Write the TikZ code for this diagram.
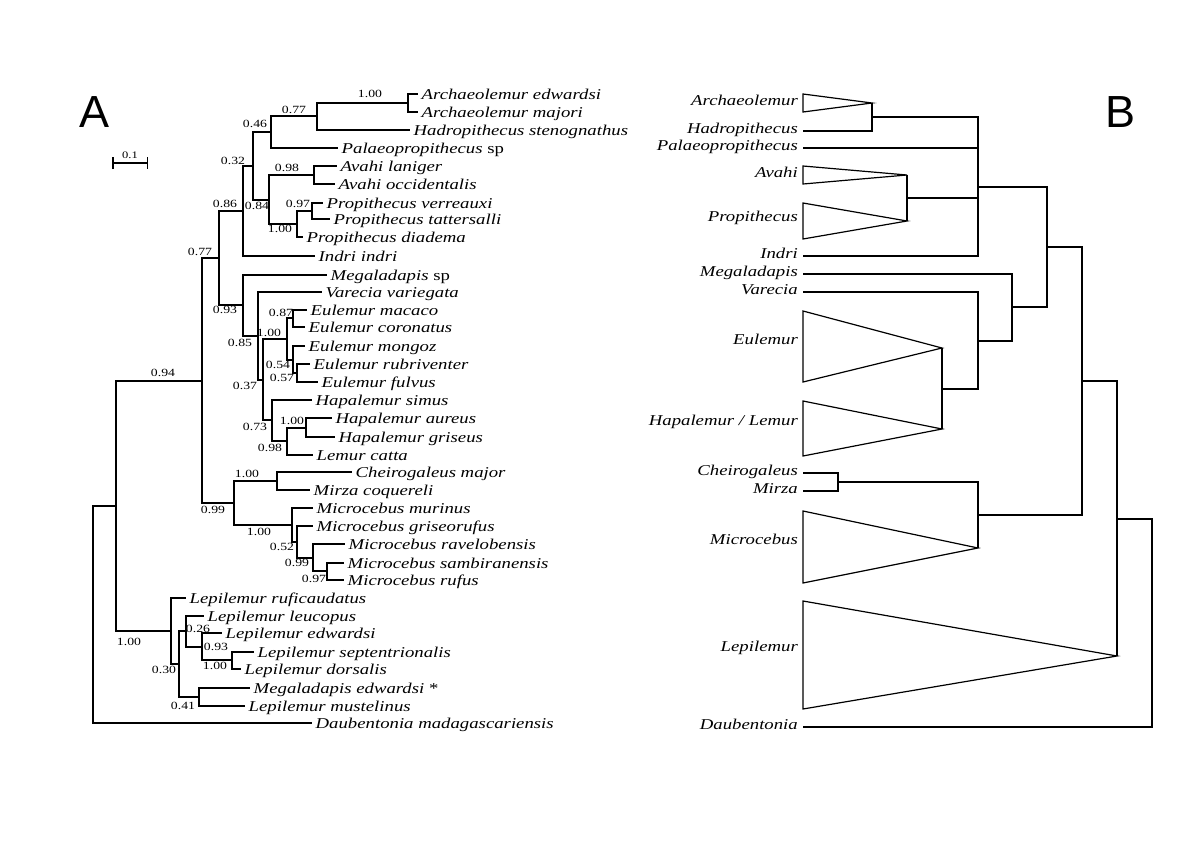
\documentclass[tikz,border=0pt]{standalone}
\usepackage{fontspec}
\setmainfont{Liberation Serif}[FakeStretch=1.25]
\newfontfamily\panelfont{Liberation Sans}
\usetikzlibrary{arrows.meta}
\begin{document}
\begin{tikzpicture}[
    x=1pt, y=-1pt,
    every node/.style={inner sep=0pt},
    taxon/.style={anchor=west, inner xsep=3.5pt, text height=10pt, text depth=0pt, font=\fontsize{15}{15}\selectfont\itshape},
    genus/.style={anchor=east, inner xsep=5pt, text height=5pt, text depth=0pt, font=\fontsize{15}{15}\selectfont\itshape},
    support/.style={font=\fontsize{11}{11}\selectfont},
    panel/.style={anchor=base, font=\panelfont\fontsize{45}{45}\selectfont},
    branch/.style={draw, line width=1.5pt},
    clade/.style={draw, line width=1.2pt},
    ]
\useasboundingbox (0,0) rectangle (1200,849);
\node[panel] (A) at (95,127) {A};
\node[panel] (B) at (1120,127) {B};
\coordinate (sbL) at (112,163);
\coordinate (sbR) at (148,163);
\draw[branch, {Bar[width=12pt]}-{Bar[width=12pt]}] (sbL) -- (sbR);
\node[font=\fontsize{10}{10}\selectfont] (scale) at (130,155) {0.1};
\node[taxon] (ArchEdwardsi) at (418,94) {Archaeolemur edwardsi};
\node[taxon] (ArchMajori) at (418,112) {Archaeolemur majori};
\node[taxon] (Hadropithecus) at (410,130) {Hadropithecus stenognathus};
\node[taxon] (Palaeopropithecus) at (338,148) {Palaeopropithecus \textup{sp}};
\node[taxon] (AvahiLaniger) at (337,166) {Avahi laniger};
\node[taxon] (AvahiOccidentalis) at (335,184) {Avahi occidentalis};
\node[taxon] (PropVerreauxi) at (323,203) {Propithecus verreauxi};
\node[taxon] (PropTattersalli) at (330,219) {Propithecus tattersalli};
\node[taxon] (PropDiadema) at (303,237) {Propithecus diadema};
\node[taxon] (Indri) at (315,256) {Indri indri};
\node[taxon] (MegaladapisSp) at (327,275) {Megaladapis \textup{sp}};
\node[taxon] (Varecia) at (322,292) {Varecia variegata};
\node[taxon] (EulMacaco) at (307,310) {Eulemur macaco};
\node[taxon] (EulCoronatus) at (305,327) {Eulemur coronatus};
\node[taxon] (EulMongoz) at (305,346) {Eulemur mongoz};
\node[taxon] (EulRubriventer) at (310,364) {Eulemur rubriventer};
\node[taxon] (EulFulvus) at (318,382) {Eulemur fulvus};
\node[taxon] (HapSimus) at (312,400) {Hapalemur simus};
\node[taxon] (HapAureus) at (332,418) {Hapalemur aureus};
\node[taxon] (HapGriseus) at (335,437) {Hapalemur griseus};
\node[taxon] (LemurCatta) at (313,455) {Lemur catta};
\node[taxon] (Cheirogaleus) at (352,472) {Cheirogaleus major};
\node[taxon] (Mirza) at (310,490) {Mirza coquereli};
\node[taxon] (MicMurinus) at (313,508) {Microcebus murinus};
\node[taxon] (MicGriseorufus) at (313,526) {Microcebus griseorufus};
\node[taxon] (MicRavelobensis) at (345,544) {Microcebus ravelobensis};
\node[taxon] (MicSambiranensis) at (344,563) {Microcebus sambiranensis};
\node[taxon] (MicRufus) at (344,580) {Microcebus rufus};
\node[taxon] (LepRuficaudatus) at (186,598) {Lepilemur ruficaudatus};
\node[taxon] (LepLeucopus) at (204,616) {Lepilemur leucopus};
\node[taxon] (LepEdwardsi) at (222,633) {Lepilemur edwardsi};
\node[taxon] (LepSeptentrionalis) at (254,652) {Lepilemur septentrionalis};
\node[taxon] (LepDorsalis) at (241,669) {Lepilemur dorsalis};
\node[taxon] (MegEdwardsi) at (250,688) {Megaladapis edwardsi \textup{*}};
\node[taxon] (LepMustelinus) at (245,706) {Lepilemur mustelinus};
\node[taxon] (Daubentonia) at (312,723) {Daubentonia madagascariensis};
\coordinate (nArch) at (408,103);
\coordinate (nArchHad) at (317,116);
\coordinate (nPal) at (271,132);
\coordinate (nAvahi) at (314,175);
\coordinate (nPverr) at (312,211);
\coordinate (nPropi) at (297,224);
\coordinate (nAvPr) at (269,200);
\coordinate (nPalAv) at (253,166);
\coordinate (nIndri) at (243,211);
\coordinate (nEuMac) at (293,318);
\coordinate (nEuRub) at (297,373);
\coordinate (nEuMon) at (293,360);
\coordinate (nEulemur) at (287,339);
\coordinate (nHapAur) at (306,428);
\coordinate (nHapLem) at (287,441);
\coordinate (nHapal) at (272,420);
\coordinate (nLemurid) at (263,380);
\coordinate (nVarecia) at (258,336);
\coordinate (nMegal) at (243,305);
\coordinate (nIndriMeg) at (219,258);
\coordinate (nCheiro) at (277,481);
\coordinate (nMicSamb) at (327,571);
\coordinate (nMicRav) at (313,558);
\coordinate (nMicGri) at (297,542);
\coordinate (nMicro) at (292,525);
\coordinate (nCheiroMic) at (234,503);
\coordinate (nLemuriform) at (202,381);
\coordinate (nLepSept) at (232,660);
\coordinate (nLepEdw) at (202,647);
\coordinate (nLepLeu) at (186,631);
\coordinate (nMegEdw) at (199,697);
\coordinate (nLepB) at (179,664);
\coordinate (nLepilemur) at (171,631);
\coordinate (nStrep) at (116,506);
\coordinate (nRoot) at (93,614);
\draw[branch] (nArch) |- (ArchEdwardsi.west);
\draw[branch] (nArch) |- (ArchMajori.west);
\draw[branch] (nArchHad) |- (nArch);
\draw[branch] (nArchHad) |- (Hadropithecus.west);
\draw[branch] (nPal) |- (nArchHad);
\draw[branch] (nPal) |- (Palaeopropithecus.west);
\draw[branch] (nAvahi) |- (AvahiLaniger.west);
\draw[branch] (nAvahi) |- (AvahiOccidentalis.west);
\draw[branch] (nPverr) |- (PropVerreauxi.west);
\draw[branch] (nPverr) |- (PropTattersalli.west);
\draw[branch] (nPropi) |- (nPverr);
\draw[branch] (nPropi) |- (PropDiadema.west);
\draw[branch] (nAvPr) |- (nAvahi);
\draw[branch] (nAvPr) |- (nPropi);
\draw[branch] (nPalAv) |- (nPal);
\draw[branch] (nPalAv) |- (nAvPr);
\draw[branch] (nIndri) |- (nPalAv);
\draw[branch] (nIndri) |- (Indri.west);
\draw[branch] (nEuMac) |- (EulMacaco.west);
\draw[branch] (nEuMac) |- (EulCoronatus.west);
\draw[branch] (nEuRub) |- (EulRubriventer.west);
\draw[branch] (nEuRub) |- (EulFulvus.west);
\draw[branch] (nEuMon) |- (EulMongoz.west);
\draw[branch] (nEuMon) |- (nEuRub);
\draw[branch] (nEulemur) |- (nEuMac);
\draw[branch] (nEulemur) |- (nEuMon);
\draw[branch] (nHapAur) |- (HapAureus.west);
\draw[branch] (nHapAur) |- (HapGriseus.west);
\draw[branch] (nHapLem) |- (nHapAur);
\draw[branch] (nHapLem) |- (LemurCatta.west);
\draw[branch] (nHapal) |- (HapSimus.west);
\draw[branch] (nHapal) |- (nHapLem);
\draw[branch] (nLemurid) |- (nEulemur);
\draw[branch] (nLemurid) |- (nHapal);
\draw[branch] (nVarecia) |- (Varecia.west);
\draw[branch] (nVarecia) |- (nLemurid);
\draw[branch] (nMegal) |- (MegaladapisSp.west);
\draw[branch] (nMegal) |- (nVarecia);
\draw[branch] (nIndriMeg) |- (nIndri);
\draw[branch] (nIndriMeg) |- (nMegal);
\draw[branch] (nCheiro) |- (Cheirogaleus.west);
\draw[branch] (nCheiro) |- (Mirza.west);
\draw[branch] (nMicSamb) |- (MicSambiranensis.west);
\draw[branch] (nMicSamb) |- (MicRufus.west);
\draw[branch] (nMicRav) |- (MicRavelobensis.west);
\draw[branch] (nMicRav) |- (nMicSamb);
\draw[branch] (nMicGri) |- (MicGriseorufus.west);
\draw[branch] (nMicGri) |- (nMicRav);
\draw[branch] (nMicro) |- (MicMurinus.west);
\draw[branch] (nMicro) |- (nMicGri);
\draw[branch] (nCheiroMic) |- (nCheiro);
\draw[branch] (nCheiroMic) |- (nMicro);
\draw[branch] (nLemuriform) |- (nIndriMeg);
\draw[branch] (nLemuriform) |- (nCheiroMic);
\draw[branch] (nLepSept) |- (LepSeptentrionalis.west);
\draw[branch] (nLepSept) |- (LepDorsalis.west);
\draw[branch] (nLepEdw) |- (LepEdwardsi.west);
\draw[branch] (nLepEdw) |- (nLepSept);
\draw[branch] (nLepLeu) |- (LepLeucopus.west);
\draw[branch] (nLepLeu) |- (nLepEdw);
\draw[branch] (nMegEdw) |- (MegEdwardsi.west);
\draw[branch] (nMegEdw) |- (LepMustelinus.west);
\draw[branch] (nLepB) |- (nLepLeu);
\draw[branch] (nLepB) |- (nMegEdw);
\draw[branch] (nLepilemur) |- (LepRuficaudatus.west);
\draw[branch] (nLepilemur) |- (nLepB);
\draw[branch] (nStrep) |- (nLemuriform);
\draw[branch] (nStrep) |- (nLepilemur);
\draw[branch] (nRoot) |- (nStrep);
\draw[branch] (nRoot) |- (Daubentonia.west);
\node[support] (sArch) at (370,94) {1.00};
\node[support] (sArchHad) at (294,110) {0.77};
\node[support] (sPal) at (255,124) {0.46};
\node[support] (sPalAv) at (233,161) {0.32};
\node[support] (sAvahi) at (287,168) {0.98};
\node[support] (sIndri) at (225,204) {0.86};
\node[support] (sAvPr) at (257,206) {0.84};
\node[support] (sPverr) at (298,204) {0.97};
\node[support] (sPropi) at (280,229) {1.00};
\node[support] (sIndriMeg) at (200,252) {0.77};
\node[support] (sMegal) at (225,310) {0.93};
\node[support] (sVarecia) at (240,343) {0.85};
\node[support] (sEulemur) at (269,333) {1.00};
\node[support] (sEuMac) at (281,313) {0.87};
\node[support] (sEuMon) at (278,365) {0.54};
\node[support] (sEuRub) at (282,378) {0.57};
\node[support] (sLemurid) at (245,386) {0.37};
\node[support] (sHapal) at (255,427) {0.73};
\node[support] (sHapAur) at (292,421) {1.00};
\node[support] (sHapLem) at (270,448) {0.98};
\node[support] (sLemuriform) at (163,373) {0.94};
\node[support] (sCheiro) at (247,474) {1.00};
\node[support] (sCheiroMic) at (213,510) {0.99};
\node[support] (sMicro) at (259,532) {1.00};
\node[support] (sMicGri) at (282,547) {0.52};
\node[support] (sMicRav) at (297,563) {0.99};
\node[support] (sMicSamb) at (314,579) {0.97};
\node[support] (sLepilemur) at (129,642) {1.00};
\node[support] (sLepLeu) at (198,629) {0.26};
\node[support] (sLepEdw) at (216,647) {0.93};
\node[support] (sLepSept) at (215,666) {1.00};
\node[support] (sLepB) at (164,670) {0.30};
\node[support] (sMegEdw) at (183,706) {0.41};
\node[genus] (ArchaeolemurB) at (803,103) {Archaeolemur};
\node[genus] (HadropithecusB) at (803,131) {Hadropithecus};
\node[genus] (PalaeopropithecusB) at (803,148) {Palaeopropithecus};
\node[genus] (AvahiB) at (803,175) {Avahi};
\node[genus] (PropithecusB) at (803,219) {Propithecus};
\node[genus] (IndriB) at (803,256) {Indri};
\node[genus] (MegaladapisB) at (803,274) {Megaladapis};
\node[genus] (VareciaB) at (803,292) {Varecia};
\node[genus] (EulemurB) at (803,342) {Eulemur};
\node[genus] (HapalemurB) at (803,423) {Hapalemur / Lemur};
\node[genus] (CheirogaleusB) at (803,473) {Cheirogaleus};
\node[genus] (MirzaB) at (803,491) {Mirza};
\node[genus] (MicrocebusB) at (803,542) {Microcebus};
\node[genus] (LepilemurB) at (803,649) {Lepilemur};
\node[genus] (DaubentoniaB) at (803,727) {Daubentonia};
\coordinate (tArch) at (872,103);
\coordinate (tAvahi) at (907,175);
\coordinate (tProp) at (907,221);
\coordinate (tEul) at (942,348);
\coordinate (tHap) at (942,429);
\coordinate (tMic) at (978,548);
\coordinate (tLep) at (1117,656);
\draw[clade] (803,94) -- (tArch) -- (803,112) -- cycle;
\draw[clade] (803,166) -- (tAvahi) -- (803,184) -- cycle;
\draw[clade] (803,203) -- (tProp) -- (803,239) -- cycle;
\draw[clade] (803,311) -- (tEul) -- (803,382) -- cycle;
\draw[clade] (803,401) -- (tHap) -- (803,456) -- cycle;
\draw[clade] (803,511) -- (tMic) -- (803,583) -- cycle;
\draw[clade] (803,601) -- (tLep) -- (803,709) -- cycle;
\coordinate (bArchHad) at (872,117);
\coordinate (bAvPr) at (907,198);
\coordinate (bIndri) at (978,187);
\coordinate (bEuHap) at (942,389);
\coordinate (bLemurid) at (978,341);
\coordinate (bMegal) at (1012,307);
\coordinate (bIndriMeg) at (1047,247);
\coordinate (bCheiro) at (838,482);
\coordinate (bCheiroMic) at (978,515);
\coordinate (bLemuriform) at (1082,381);
\coordinate (bLepilemur) at (1117,519);
\coordinate (bRoot) at (1152,623);
\draw[clade] (bArchHad) |- (tArch);
\draw[clade] (bArchHad) |- (HadropithecusB.east);
\draw[clade] (bAvPr) |- (tAvahi);
\draw[clade] (bAvPr) |- (tProp);
\draw[clade] (bIndri) |- (bArchHad);
\draw[clade] (bIndri) |- (PalaeopropithecusB.east);
\draw[clade] (bIndri) |- (bAvPr);
\draw[clade] (bIndri) |- (IndriB.east);
\draw[clade] (bEuHap) |- (tEul);
\draw[clade] (bEuHap) |- (tHap);
\draw[clade] (bLemurid) |- (VareciaB.east);
\draw[clade] (bLemurid) |- (bEuHap);
\draw[clade] (bMegal) |- (MegaladapisB.east);
\draw[clade] (bMegal) |- (bLemurid);
\draw[clade] (bIndriMeg) |- (bIndri);
\draw[clade] (bIndriMeg) |- (bMegal);
\draw[clade] (bCheiro) |- (CheirogaleusB.east);
\draw[clade] (bCheiro) |- (MirzaB.east);
\draw[clade] (bCheiroMic) |- (bCheiro);
\draw[clade] (bCheiroMic) |- (tMic);
\draw[clade] (bLemuriform) |- (bIndriMeg);
\draw[clade] (bLemuriform) |- (bCheiroMic);
\draw[clade] (bLepilemur) |- (bLemuriform);
\draw[clade] (bLepilemur) |- (tLep);
\draw[clade] (bRoot) |- (bLepilemur);
\draw[clade] (bRoot) |- (DaubentoniaB.east);
\end{tikzpicture}
\end{document}
